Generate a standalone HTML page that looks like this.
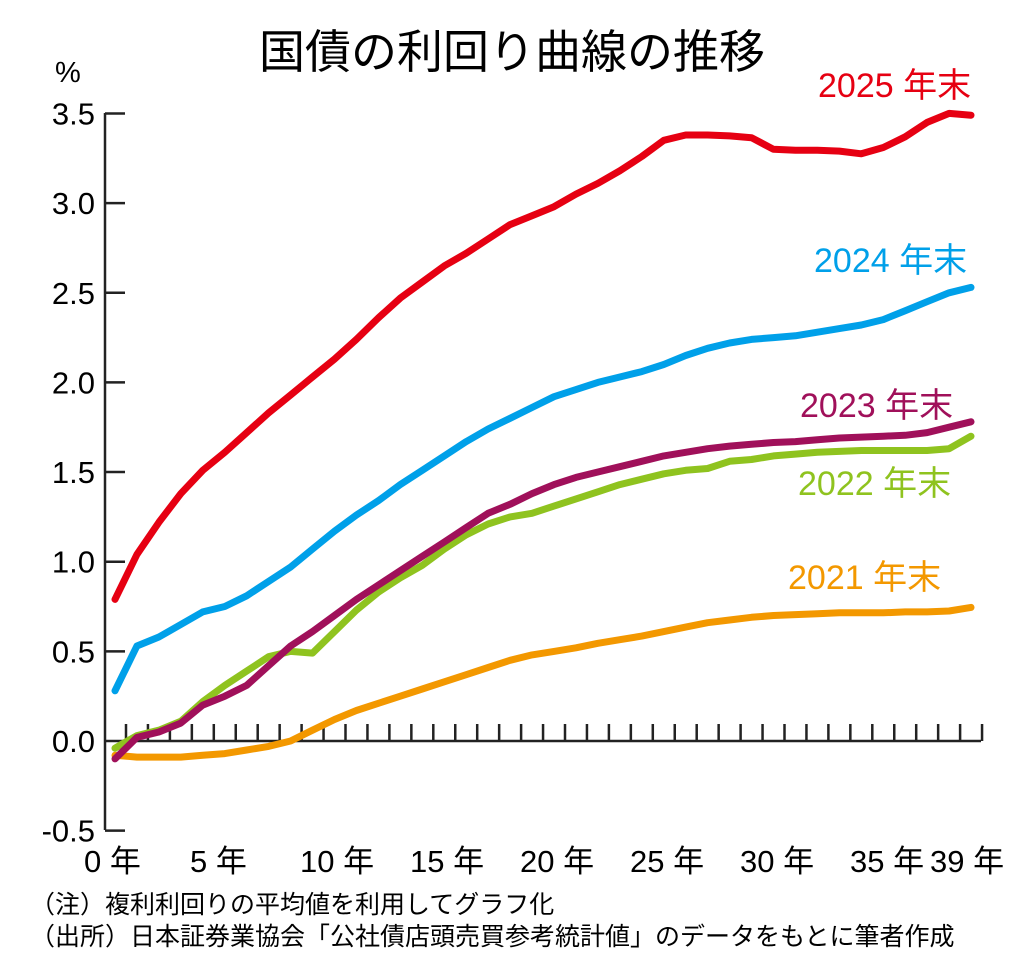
<!DOCTYPE html>
<html><head><meta charset="utf-8"><style>
body{margin:0;background:#fff;}
svg text{font-family:"Liberation Sans","Noto Sans CJK JP",sans-serif;}
</style></head><body>
<svg id="s" width="1024" height="960" viewBox="0 0 1024 960" xmlns="http://www.w3.org/2000/svg">
<text x="512" y="68" font-size="46" text-anchor="middle">国債の利回り曲線の推移</text>
<text x="55" y="82" font-size="29">%</text>
<g font-size="31" text-anchor="end" id="yl"></g>
<g stroke="#222" stroke-width="2.5" fill="none" id="ax"></g>
<g font-size="31" id="xl">
<text x="84" y="872">0 年</text>
<text x="190" y="872">5 年</text>
<text x="300" y="872">10 年</text>
<text x="410" y="872">15 年</text>
<text x="520" y="872">20 年</text>
<text x="630" y="872">25 年</text>
<text x="740" y="872">30 年</text>
<text x="850" y="872">35 年</text>
<text x="930" y="872">39 年</text>
</g>
<g id="lines" fill="none" stroke-width="7" stroke-linejoin="round" stroke-linecap="round"></g>
<g font-size="34">
<text x="818" y="97" fill="#e60012">2025 年末</text>
<text x="814" y="272" fill="#00a0e9">2024 年末</text>
<text x="800" y="417" fill="#a0105a">2023 年末</text>
<text x="798" y="495" fill="#8fc31f">2022 年末</text>
<text x="788" y="589" fill="#f39800">2021 年末</text>
</g>
<text x="30" y="913" font-size="25">（注）複利利回りの平均値を利用してグラフ化</text>
<text x="30" y="945" font-size="25">（出所）日本証券業協会「公社債店頭売買参考統計値」のデータをもとに筆者作成</text>
</svg>
<script>
var NS="http://www.w3.org/2000/svg";
function Y(v){return 741-v*179.3;}
var yl=document.getElementById('yl'),ax=document.getElementById('ax'),ln=document.getElementById('lines');
function el(p,tag,a,t){var e=document.createElementNS(NS,tag);for(var k in a)e.setAttribute(k,a[k]);if(t)e.textContent=t;p.appendChild(e);return e;}
var d="M105 113V830";
for(var i=0;i<9;i++){var v=3.5-0.5*i;var y=Y(v);d+="M105 "+y+"H125";el(yl,'text',{x:95,y:y+11},v.toFixed(1));}
d+="M105 741H981";
for(var k=0;k<40;k++){var x=126+21.95*k;d+="M"+x+" 741V724";}
el(ax,'path',{d:d});
var data=[
["#f39800",[-0.08,-0.09,-0.09,-0.09,-0.08,-0.07,-0.05,-0.03,0.00,0.06,0.12,0.17,0.21,0.25,0.29,0.33,0.37,0.41,0.45,0.48,0.50,0.52,0.545,0.565,0.585,0.61,0.635,0.66,0.675,0.69,0.70,0.705,0.71,0.715,0.715,0.715,0.72,0.72,0.725,0.745]],
["#8fc31f",[-0.04,0.03,0.06,0.11,0.22,0.31,0.39,0.47,0.50,0.49,0.61,0.73,0.83,0.91,0.98,1.07,1.15,1.21,1.25,1.27,1.31,1.35,1.39,1.43,1.46,1.49,1.51,1.52,1.56,1.57,1.59,1.60,1.61,1.615,1.62,1.62,1.62,1.62,1.63,1.70]],
["#a0105a",[-0.10,0.02,0.05,0.10,0.20,0.25,0.31,0.42,0.53,0.61,0.70,0.79,0.87,0.95,1.03,1.11,1.19,1.27,1.32,1.38,1.43,1.47,1.50,1.53,1.56,1.59,1.61,1.63,1.645,1.655,1.665,1.67,1.68,1.69,1.695,1.70,1.705,1.72,1.75,1.78]],
["#00a0e9",[0.28,0.53,0.58,0.65,0.72,0.75,0.81,0.89,0.97,1.07,1.17,1.26,1.34,1.43,1.51,1.59,1.67,1.74,1.80,1.86,1.92,1.96,2.00,2.03,2.06,2.10,2.15,2.19,2.22,2.24,2.25,2.26,2.28,2.30,2.32,2.35,2.40,2.45,2.50,2.53]],
["#e60012",[0.79,1.04,1.22,1.38,1.51,1.61,1.72,1.83,1.93,2.03,2.13,2.24,2.36,2.47,2.56,2.65,2.72,2.80,2.88,2.93,2.98,3.05,3.11,3.18,3.26,3.35,3.38,3.38,3.375,3.365,3.30,3.295,3.295,3.29,3.275,3.31,3.37,3.45,3.50,3.49]]
];
data.forEach(function(s){var p=s[1].map(function(v,i){return (115+21.95*i).toFixed(1)+","+Y(v).toFixed(1);}).join(" ");el(ln,'polyline',{points:p,stroke:s[0]});});
</script>
</body></html>
